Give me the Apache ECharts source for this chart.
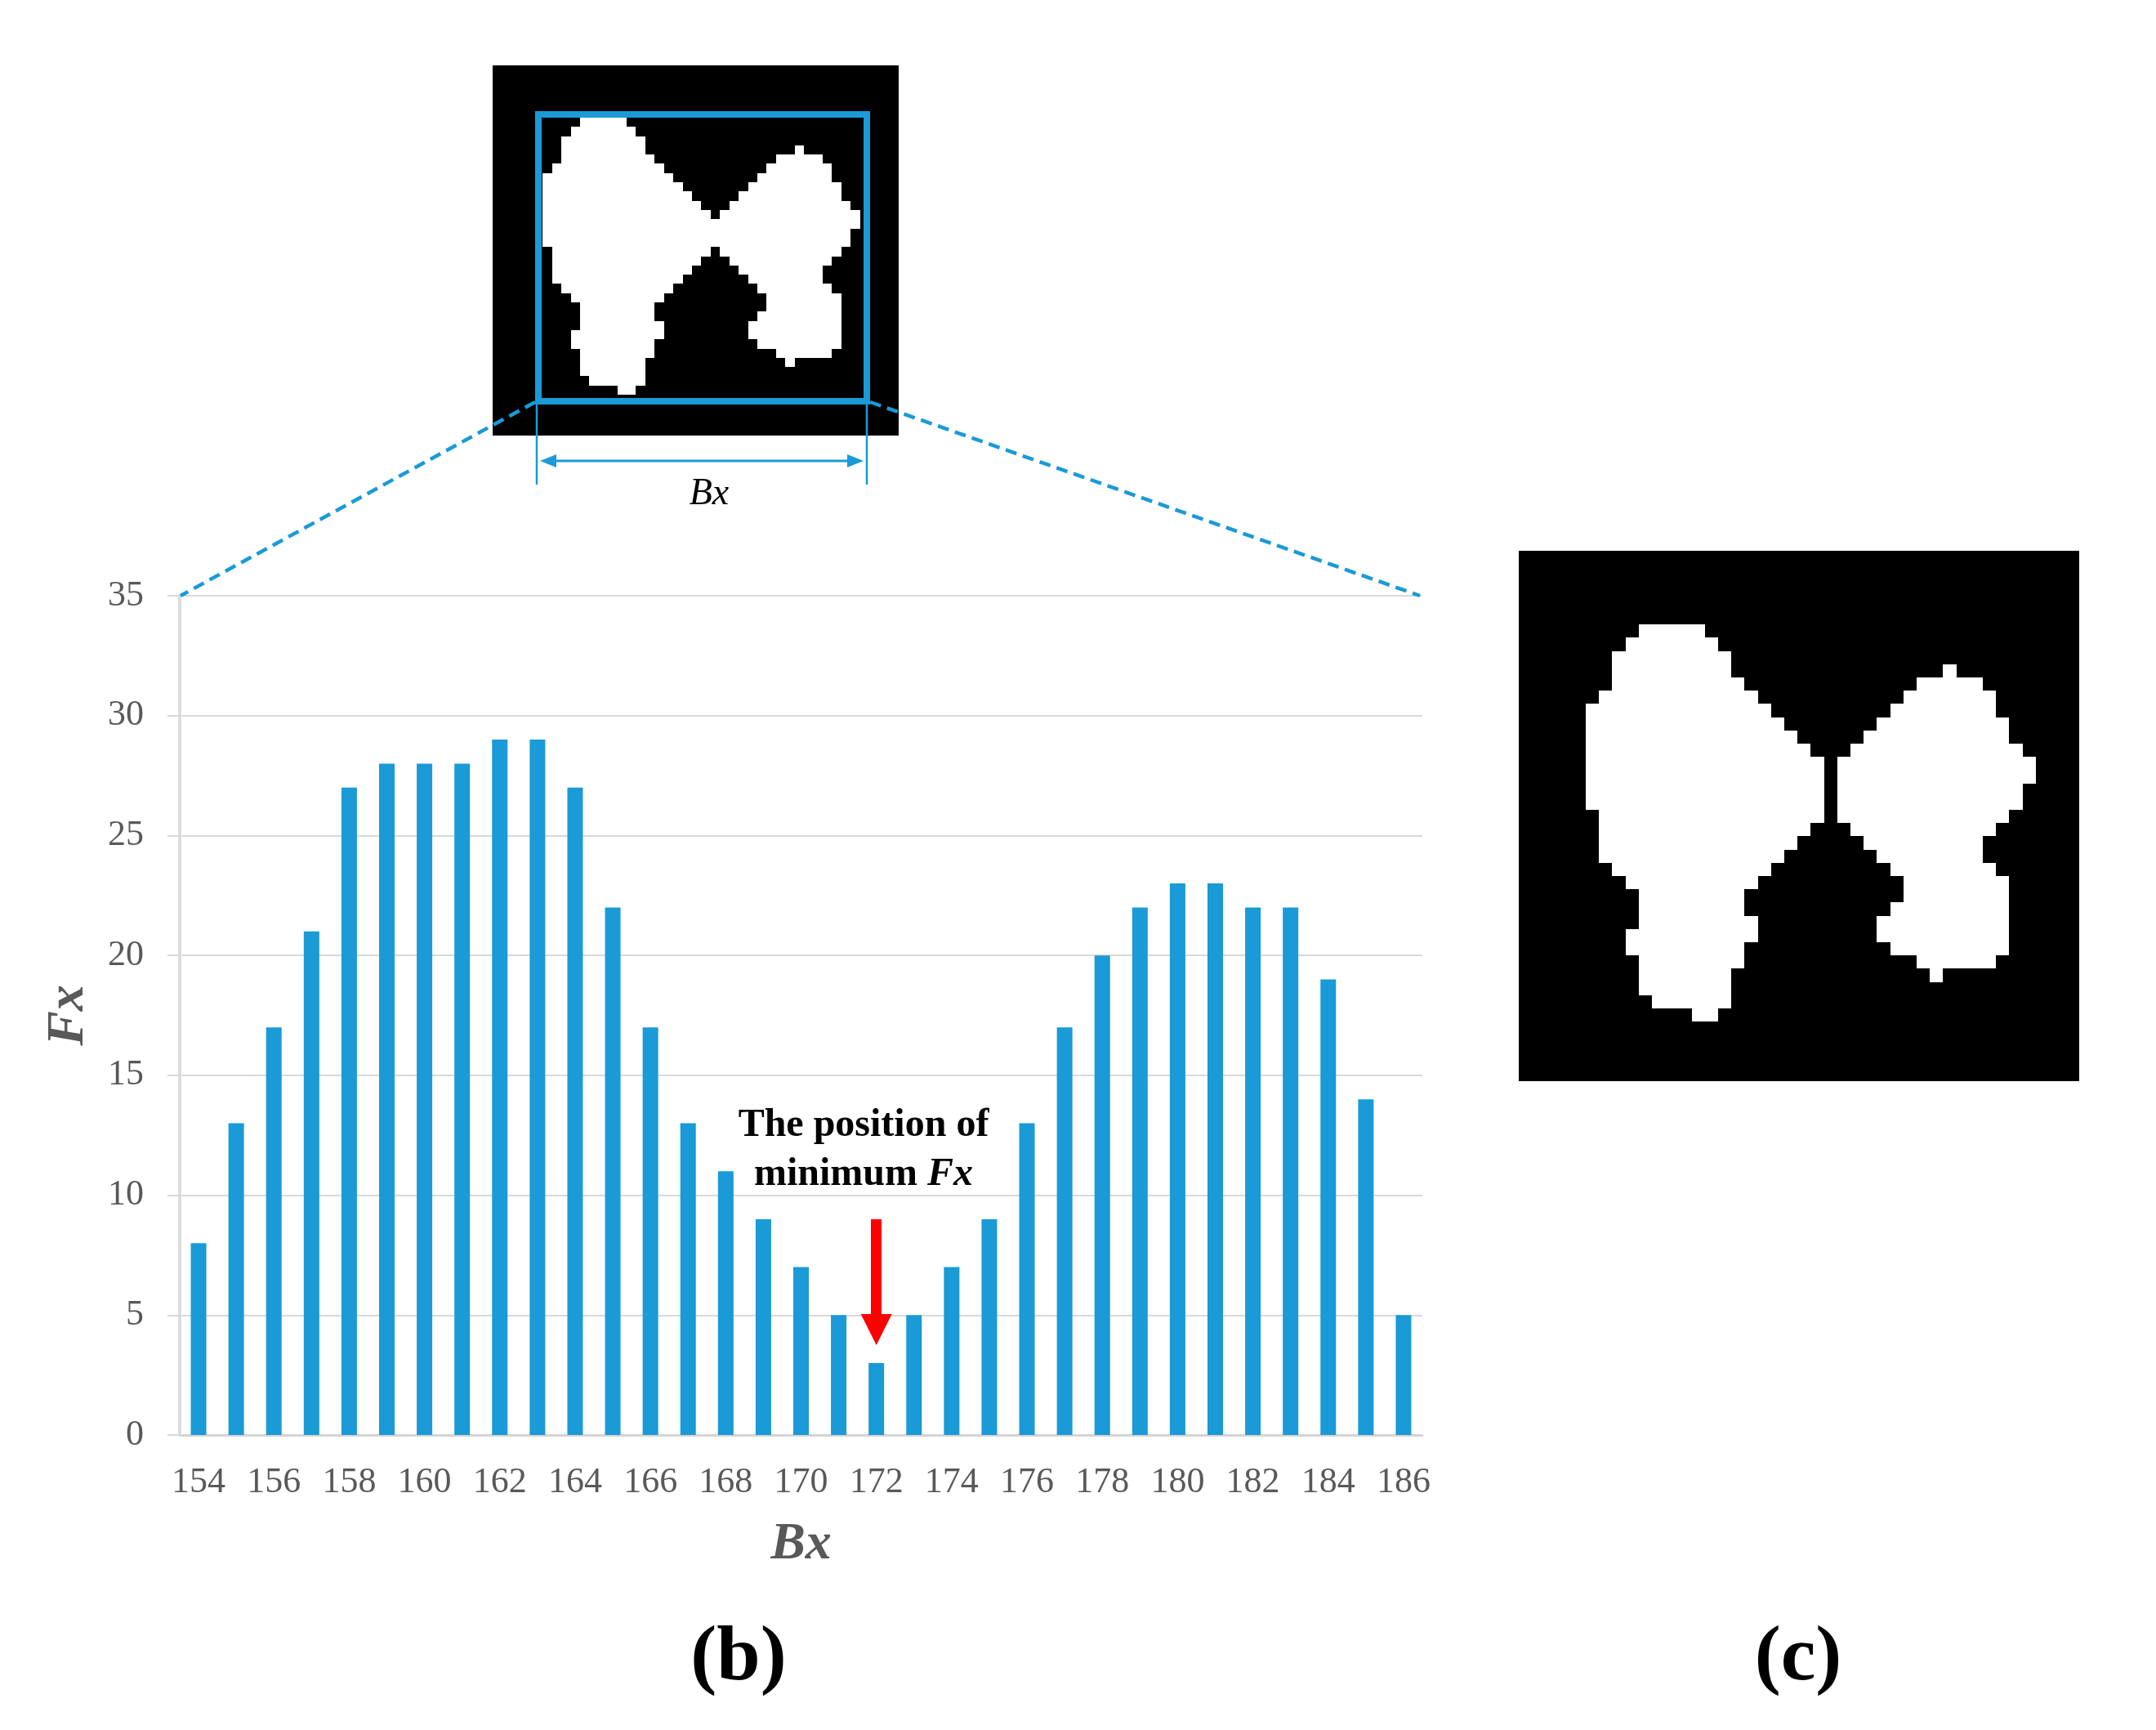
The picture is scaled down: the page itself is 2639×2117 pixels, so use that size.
<!DOCTYPE html>
<html>
<head>
<meta charset="utf-8">
<title>Fx profile</title>
<script src="https://cdn.jsdelivr.net/npm/echarts@6/dist/echarts.min.js"></script>
<style>
  html, body { margin: 0; padding: 0; background: #fff; }
  #main { width: 2639px; height: 2117px; }
</style>
</head>
<body>
<div id="main"></div>
<script>
// Bx positions (categories) and the column counts Fx
const bxLabels = ['154', '155', '156', '157', '158', '159', '160', '161', '162', '163', '164',
  '165', '166', '167', '168', '169', '170', '171', '172', '173', '174', '175', '176',
  '177', '178', '179', '180', '181', '182', '183', '184', '185', '186'];
const fxValues = [8, 13, 17, 21, 27, 28, 28, 28, 29, 29, 27, 22, 17, 13, 11, 9, 7, 5, 3,
  5, 7, 9, 13, 17, 20, 22, 23, 23, 22, 22, 19, 14, 5];
const yTicks = [0, 5, 10, 15, 20, 25, 30, 35];

// binary image as white runs per column: [column, firstRow, lastRow]
const wingRuns = [
  [0, 6, 13], [1, 5, 17], [2, 2, 18], [3, 1, 19], [3, 23, 24], [4, 0, 27],
  [5, 0, 28], [6, 0, 28], [7, 0, 28], [8, 0, 29], [9, 1, 29], [10, 2, 28],
  [11, 4, 25], [12, 5, 19], [12, 22, 23], [13, 6, 18], [14, 7, 17], [15, 8, 16],
  [16, 9, 15], [17, 10, 14],
  [19, 10, 14], [20, 9, 15], [21, 8, 16], [22, 7, 17], [22, 22, 23], [23, 6, 18],
  [23, 21, 24], [24, 5, 24], [25, 4, 25], [26, 4, 26], [27, 3, 25], [28, 4, 25],
  [29, 4, 25], [30, 5, 15], [30, 18, 25], [31, 7, 14], [31, 19, 24], [32, 9, 13],
  [33, 10, 11]
];
// the thin neck at the minimum column, only present in the uncut image
const neckRuns = [[18, 11, 13]];

const blue = '#1a9ad6';
const grey = '#595959';
const serif = 'Liberation Serif';

function renderRun(params, api) {
  const c = api.value(0), a = api.value(1), b = api.value(2);
  const p0 = api.coord([c, a]);
  const p1 = api.coord([c + 1, b + 1]);
  // snap to whole pixels so neighbouring columns join without seams
  const x0 = Math.round(p0[0]), x1 = Math.round(p1[0]);
  const y0 = Math.round(p0[1]), y1 = Math.round(p1[1]);
  return {
    type: 'rect',
    shape: { x: x0, y: y0, width: x1 - x0, height: y1 - y0 },
    style: { fill: '#fff' }
  };
}

const chart = echarts.init(document.getElementById('main'));

const option = {
  animation: false,
  backgroundColor: '#fff',
  textStyle: { fontFamily: serif },
  grid: [
    { left: 220, top: 729, width: 1521, height: 1027 },
    { left: 603, top: 80, width: 497, height: 453, show: true, backgroundColor: '#000', borderWidth: 0 },
    { left: 1859, top: 674, width: 686, height: 649, show: true, backgroundColor: '#000', borderWidth: 0 }
  ],
  xAxis: [
    {
      type: 'category',
      gridIndex: 0,
      data: bxLabels,
      name: 'Bx',
      nameLocation: 'middle',
      nameGap: 102,
      nameTextStyle: { fontFamily: serif, fontSize: 64, fontWeight: 'bold', fontStyle: 'italic', color: grey },
      axisLine: { lineStyle: { color: '#d4d4d4', width: 3 } },
      axisTick: { alignWithLabel: true, interval: 0, length: 11, lineStyle: { color: '#c4c4c4', width: 2 } },
      axisLabel: { interval: 1, fontFamily: serif, fontSize: 44, color: grey, margin: 36 }
    },
    { type: 'value', gridIndex: 1, min: -5.36, max: 38.14, show: false },
    { type: 'value', gridIndex: 2, min: -5.06, max: 37.29, show: false }
  ],
  yAxis: [
    {
      type: 'value',
      gridIndex: 0,
      min: yTicks[0],
      max: yTicks[yTicks.length - 1],
      interval: 5,
      name: 'Fx',
      nameLocation: 'middle',
      nameGap: 104,
      nameRotate: 90,
      nameTextStyle: { fontFamily: serif, fontSize: 64, fontWeight: 'bold', fontStyle: 'italic', color: grey },
      axisLine: { show: true, lineStyle: { color: '#dcdcdc', width: 4 } },
      axisTick: { show: true, length: 15, lineStyle: { color: '#d9d9d9', width: 2 } },
      axisLabel: { fontFamily: serif, fontSize: 44, color: grey, margin: 44 },
      splitLine: { lineStyle: { color: '#d9d9d9', width: 2 } }
    },
    { type: 'value', gridIndex: 1, inverse: true, min: -5.66, max: 34.42, show: false },
    { type: 'value', gridIndex: 2, inverse: true, min: -5.57, max: 34.49, show: false }
  ],
  series: [
    {
      type: 'bar',
      xAxisIndex: 0,
      yAxisIndex: 0,
      data: fxValues,
      barWidth: 19,
      itemStyle: { color: blue },
      markLine: {
        silent: true,
        symbol: ['none', 'triangle'],
        symbolSize: [38, 38],
        label: { show: false },
        lineStyle: { color: '#ff0000', width: 13, type: 'solid' },
        data: [[{ coord: ['172', 9] }, { coord: ['172', 4.4] }]]
      }
    },
    {
      type: 'custom',
      xAxisIndex: 1,
      yAxisIndex: 1,
      clip: false,
      renderItem: renderRun,
      data: wingRuns.concat(neckRuns)
    },
    {
      type: 'custom',
      xAxisIndex: 2,
      yAxisIndex: 2,
      clip: false,
      renderItem: renderRun,
      data: wingRuns
    }
  ],
  graphic: [
    // box around the object in the small image
    { type: 'rect', z: 100, shape: { x: 659, y: 140, width: 402, height: 351 },
      style: { fill: 'none', stroke: blue, lineWidth: 8 } },
    // dashed zoom lines to the plot
    { type: 'line', z: 100, shape: { x1: 655, y1: 492, x2: 221, y2: 729 },
      style: { stroke: blue, lineWidth: 4.5, lineDash: [14, 8] } },
    { type: 'line', z: 100, shape: { x1: 1065, y1: 492, x2: 1738, y2: 729 },
      style: { stroke: blue, lineWidth: 4.5, lineDash: [14, 8] } },
    // width marker
    { type: 'line', z: 100, shape: { x1: 657, y1: 491, x2: 657, y2: 593 }, style: { stroke: blue, lineWidth: 2.5 } },
    { type: 'line', z: 100, shape: { x1: 1061, y1: 491, x2: 1061, y2: 593 }, style: { stroke: blue, lineWidth: 2.5 } },
    { type: 'line', z: 100, shape: { x1: 670, y1: 564, x2: 1048, y2: 564 }, style: { stroke: blue, lineWidth: 3 } },
    { type: 'polygon', z: 100, shape: { points: [[661, 564], [681, 556], [681, 572]] }, style: { fill: blue } },
    { type: 'polygon', z: 100, shape: { points: [[1057, 564], [1037, 556], [1037, 572]] }, style: { fill: blue } },
    { type: 'text', z: 100, x: 868, y: 605,
      style: { text: 'Bx', fontFamily: serif, fontSize: 46, fontStyle: 'italic', fill: '#000',
        textAlign: 'center', textVerticalAlign: 'middle' } },
    // annotation
    { type: 'text', z: 100, x: 1057, y: 1378,
      style: { text: 'The position of', fontFamily: serif, fontSize: 48, fontWeight: 'bold', fill: '#000',
        textAlign: 'center', textVerticalAlign: 'middle' } },
    { type: 'text', z: 100, x: 1057, y: 1438,
      style: { text: '{n|minimum }{i|Fx}', textAlign: 'center', textVerticalAlign: 'middle',
        rich: {
          n: { fontFamily: serif, fontSize: 48, fontWeight: 'bold', fill: '#000' },
          i: { fontFamily: serif, fontSize: 48, fontWeight: 'bold', fontStyle: 'italic', fill: '#000' }
        } } },
    // panel captions
    { type: 'text', z: 100, x: 904, y: 2030,
      style: { text: '(b)', fontFamily: serif, fontSize: 96, fontWeight: 'bold', fill: '#000',
        textAlign: 'center', textVerticalAlign: 'middle' } },
    { type: 'text', z: 100, x: 2201, y: 2030,
      style: { text: '(c)', fontFamily: serif, fontSize: 96, fontWeight: 'bold', fill: '#000',
        textAlign: 'center', textVerticalAlign: 'middle' } }
  ]
};

chart.setOption(option);
</script>
</body>
</html>
